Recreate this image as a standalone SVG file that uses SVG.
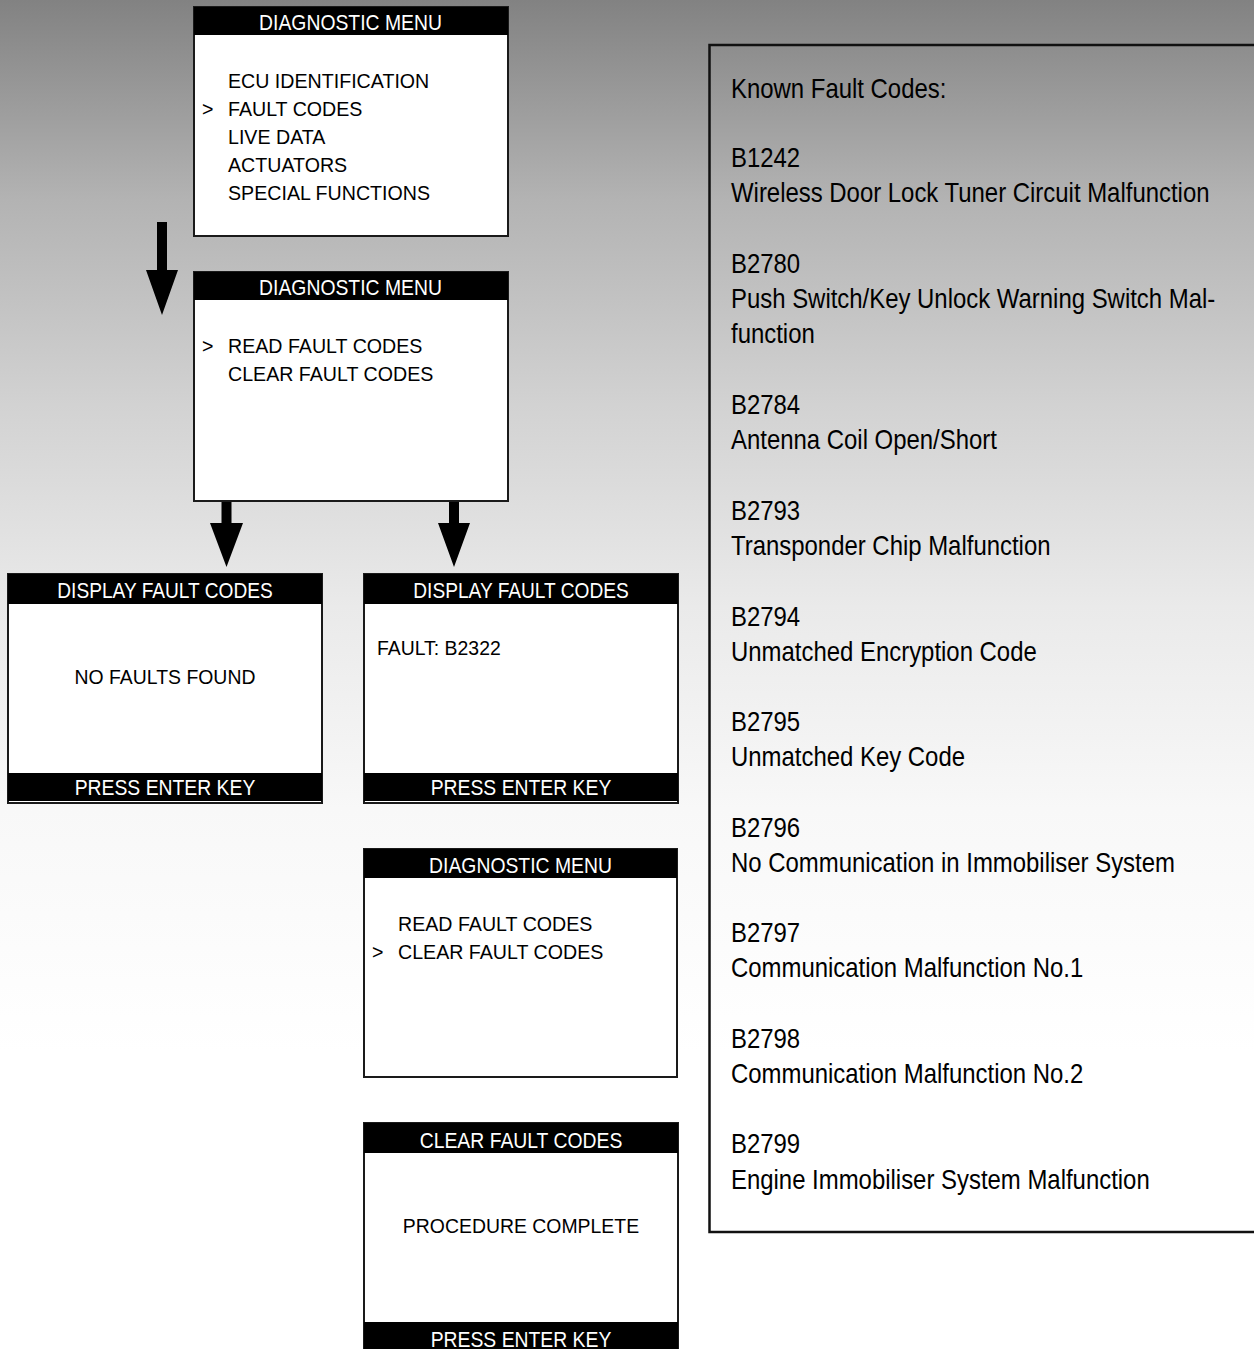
<svg xmlns="http://www.w3.org/2000/svg" width="1254" height="1349" viewBox="0 0 1254 1349">
<defs>
<linearGradient id="bg" x1="0" y1="0" x2="0" y2="1">
<stop offset="0" stop-color="#828282"/>
<stop offset="0.148" stop-color="#b3b3b3"/>
<stop offset="0.3" stop-color="#d2d2d2"/>
<stop offset="0.45" stop-color="#eaeaea"/>
<stop offset="0.6" stop-color="#f8f8f8"/>
<stop offset="0.78" stop-color="#ffffff"/>
<stop offset="1" stop-color="#ffffff"/>
</linearGradient>
<style>
.frame{fill:#fff;stroke:#1a1a1a;stroke-width:2}
.bar{fill:#000}
.hd{font-family:"Liberation Sans",Arial,sans-serif;font-size:22px;fill:#fff;text-anchor:middle}
.tx{font-family:"Liberation Sans",Arial,sans-serif;font-size:21px;fill:#000}
.mid{text-anchor:middle}
.rp{font-family:"Liberation Sans",Arial,sans-serif;font-size:27.5px;fill:#000}
.arrow{fill:#000}
</style>
</defs>
<rect x="0" y="0" width="1254" height="1349" fill="url(#bg)"/>

<g id="connectors">
<polygon class="arrow" points="157,222 167,222 167,270 178,270 162,315 146,270 157,270"/>
<polygon class="arrow" points="221.5,500 231.5,500 231.5,523 243,523 226.5,567 210,523 221.5,523"/>
<polygon class="arrow" points="449,500 459,500 459,523 470,523 454,567 438,523 449,523"/>
</g>

<g id="menu1">
<rect class="frame" x="194" y="7" width="314" height="229"/>
<rect class="bar" x="194" y="7" width="314" height="28"/>
<text class="hd" transform="matrix(0.88 0 0 1 350.5 30)">DIAGNOSTIC MENU</text>
<text class="tx" transform="matrix(0.935 0 0 1 228 87.5)">ECU IDENTIFICATION</text>
<text class="tx" transform="matrix(0.935 0 0 1 202 115.5)">&gt;</text>
<text class="tx" transform="matrix(0.935 0 0 1 228 115.5)">FAULT CODES</text>
<text class="tx" transform="matrix(0.935 0 0 1 228 143.5)">LIVE DATA</text>
<text class="tx" transform="matrix(0.935 0 0 1 228 171.5)">ACTUATORS</text>
<text class="tx" transform="matrix(0.935 0 0 1 228 199.5)">SPECIAL FUNCTIONS</text>
</g>

<g id="menu2">
<rect class="frame" x="194" y="272" width="314" height="229"/>
<rect class="bar" x="194" y="272" width="314" height="28"/>
<text class="hd" transform="matrix(0.88 0 0 1 350.5 295)">DIAGNOSTIC MENU</text>
<text class="tx" transform="matrix(0.935 0 0 1 202 352.5)">&gt;</text>
<text class="tx" transform="matrix(0.935 0 0 1 228 352.5)">READ FAULT CODES</text>
<text class="tx" transform="matrix(0.935 0 0 1 228 380.5)">CLEAR FAULT CODES</text>
</g>

<g id="display-nofault">
<rect class="frame" x="8" y="574" width="314" height="229"/>
<rect class="bar" x="8" y="574" width="314" height="30"/>
<rect class="bar" x="8" y="773" width="314" height="28"/>
<text class="hd" transform="matrix(0.87 0 0 1 165 597.5)">DISPLAY FAULT CODES</text>
<text class="tx mid" transform="matrix(0.925 0 0 1 165 683.5)">NO FAULTS FOUND</text>
<text class="hd" transform="matrix(0.88 0 0 1 165 795)">PRESS ENTER KEY</text>
</g>

<g id="display-fault">
<rect class="frame" x="364" y="574" width="314" height="229"/>
<rect class="bar" x="364" y="574" width="314" height="30"/>
<rect class="bar" x="364" y="773" width="314" height="28"/>
<text class="hd" transform="matrix(0.87 0 0 1 521 597.5)">DISPLAY FAULT CODES</text>
<text class="tx" transform="matrix(0.925 0 0 1 377 655)">FAULT: B2322</text>
<text class="hd" transform="matrix(0.88 0 0 1 521 795)">PRESS ENTER KEY</text>
</g>

<g id="menu3">
<rect class="frame" x="364" y="849" width="313" height="228"/>
<rect class="bar" x="364" y="849" width="313" height="29"/>
<text class="hd" transform="matrix(0.88 0 0 1 520.5 873)">DIAGNOSTIC MENU</text>
<text class="tx" transform="matrix(0.935 0 0 1 398 930.5)">READ FAULT CODES</text>
<text class="tx" transform="matrix(0.935 0 0 1 372 958.5)">&gt;</text>
<text class="tx" transform="matrix(0.935 0 0 1 398 958.5)">CLEAR FAULT CODES</text>
</g>

<g id="clear-complete">
<rect class="frame" x="364" y="1123" width="314" height="240"/>
<rect class="bar" x="364" y="1123" width="314" height="30"/>
<rect class="bar" x="364" y="1322" width="314" height="40"/>
<text class="hd" transform="matrix(0.88 0 0 1 521 1147.5)">CLEAR FAULT CODES</text>
<text class="tx mid" transform="matrix(0.925 0 0 1 521 1232.5)">PROCEDURE COMPLETE</text>
<text class="hd" transform="matrix(0.88 0 0 1 521 1346.5)">PRESS ENTER KEY</text>
</g>

<g id="known-fault-codes">
<rect x="709.5" y="45" width="600" height="1187" fill="none" stroke="#111" stroke-width="2.5"/>
<text class="rp" transform="matrix(0.87 0 0 1 731 98)">Known Fault Codes:</text>
<text class="rp" transform="matrix(0.87 0 0 1 731 167)">B1242</text>
<text class="rp" transform="matrix(0.87 0 0 1 731 202)">Wireless Door Lock Tuner Circuit Malfunction</text>
<text class="rp" transform="matrix(0.87 0 0 1 731 273)">B2780</text>
<text class="rp" transform="matrix(0.87 0 0 1 731 308)">Push Switch/Key Unlock Warning Switch Mal-</text>
<text class="rp" transform="matrix(0.87 0 0 1 731 343)">function</text>
<text class="rp" transform="matrix(0.87 0 0 1 731 413.5)">B2784</text>
<text class="rp" transform="matrix(0.87 0 0 1 731 449)">Antenna Coil Open/Short</text>
<text class="rp" transform="matrix(0.87 0 0 1 731 519.5)">B2793</text>
<text class="rp" transform="matrix(0.87 0 0 1 731 554.5)">Transponder Chip Malfunction</text>
<text class="rp" transform="matrix(0.87 0 0 1 731 625.5)">B2794</text>
<text class="rp" transform="matrix(0.87 0 0 1 731 660.5)">Unmatched Encryption Code</text>
<text class="rp" transform="matrix(0.87 0 0 1 731 730.5)">B2795</text>
<text class="rp" transform="matrix(0.87 0 0 1 731 765.5)">Unmatched Key Code</text>
<text class="rp" transform="matrix(0.87 0 0 1 731 836.5)">B2796</text>
<text class="rp" transform="matrix(0.87 0 0 1 731 871.5)">No Communication in Immobiliser System</text>
<text class="rp" transform="matrix(0.87 0 0 1 731 941.5)">B2797</text>
<text class="rp" transform="matrix(0.87 0 0 1 731 977)">Communication Malfunction No.1</text>
<text class="rp" transform="matrix(0.87 0 0 1 731 1047.5)">B2798</text>
<text class="rp" transform="matrix(0.87 0 0 1 731 1082.5)">Communication Malfunction No.2</text>
<text class="rp" transform="matrix(0.87 0 0 1 731 1153)">B2799</text>
<text class="rp" transform="matrix(0.87 0 0 1 731 1188.5)">Engine Immobiliser System Malfunction</text>
</g>
</svg>
